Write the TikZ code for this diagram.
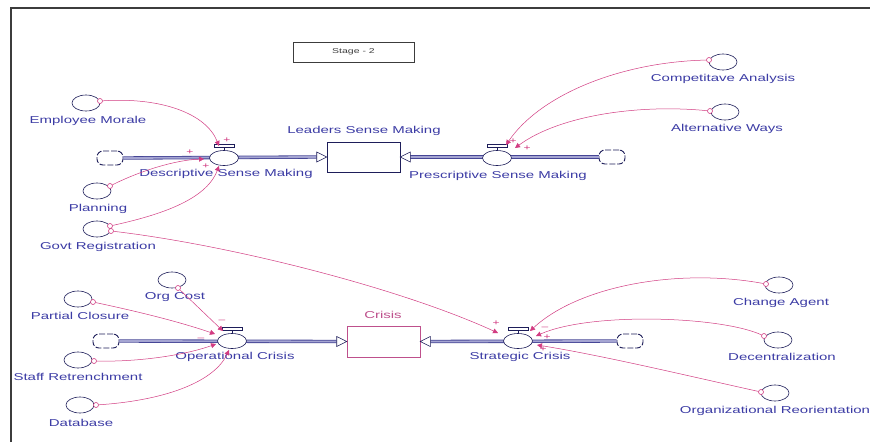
\documentclass[tikz,border=0pt]{standalone}
\usepackage{fontspec}
\setmainfont[FakeStretch=1.5]{Liberation Sans}
\usetikzlibrary{arrows.meta,shapes.geometric}
\definecolor{lbl}{RGB}{60,60,165}
\definecolor{navy}{RGB}{30,30,90}
\definecolor{pinkc}{RGB}{210,60,130}
\definecolor{pipec}{RGB}{70,70,150}
\definecolor{pipein}{RGB}{165,165,210}
\definecolor{stockpink}{RGB}{190,80,140}
\definecolor{framec}{RGB}{60,60,60}
\begin{document}
\begin{tikzpicture}[x=1pt,y=-1pt,
 aux/.style={ellipse, draw=navy, line width=0.6pt, minimum width=28pt, minimum height=16pt, inner sep=0pt},
 valve/.style={ellipse, draw=navy, fill=white, line width=0.6pt, minimum width=29pt, minimum height=15pt, inner sep=0pt},
 cloudn/.style={rectangle, rounded corners=6pt, draw=navy, fill=white, line width=0.9pt, dash pattern=on 6pt off 1.8pt, minimum width=26pt, minimum height=14pt, inner sep=0pt},
 stock/.style={rectangle, draw=navy, fill=white, line width=0.6pt, minimum width=73pt, minimum height=30pt, inner sep=0pt},
 lab/.style={text=lbl, font=\fontsize{10}{12}\selectfont, inner sep=0pt},
 pm/.style={text=pinkc, font=\fontsize{8}{9}\selectfont, inner sep=0pt},
 orig/.style={circle, draw=pinkc, fill=white, line width=0.6pt, minimum size=5pt, inner sep=0pt},
 conn/.style={draw=pinkc, line width=0.5pt, -{Triangle[length=5pt,width=5pt]}},
 pipe/.style={draw=pipec, line width=0.8pt, double=pipein, double distance=1.8pt},
 tri/.style={draw=navy, fill=white, line width=0.6pt},
 vbar/.style={draw=navy, fill=white, line width=0.6pt}
]
\useasboundingbox (0,0) rectangle (870,442);
\fill[white] (0,0) rectangle (870,442);
\draw[framec, line width=1.2pt] (11,442) -- (11,8) -- (870,8);

% stage box
\node[draw=framec, line width=0.8pt, minimum width=121pt, minimum height=20pt, inner sep=0pt,
      font=\fontsize{7}{8}\selectfont, text=framec] (stage) at (353.5,52) {Stage - 2};

% ---------- top flows ----------
\node[cloudn] (c1) at (110,158) {};
\node[cloudn] (c2) at (612,157) {};
\node[stock] (lsm) at (363.5,157) {};
\coordinate (lsmL) at ([xshift=-10]lsm.west);
\coordinate (lsmR) at ([xshift=10]lsm.east);
\draw[pipe] (c1.east) -- (lsmL);
\draw[pipe] (c2.west) -- (lsmR);
\draw[tri] (lsm.west) -- ([shift={(-10,-5)}]lsm.west) -- ([shift={(-10,5)}]lsm.west) -- cycle;
\draw[tri] (lsm.east) -- ([shift={(10,-5)}]lsm.east) -- ([shift={(10,5)}]lsm.east) -- cycle;
\node[valve] (dsm) at (224,158) {};
\node[valve] (psm) at (497,158) {};

% ---------- bottom flows ----------
\node[cloudn] (c3) at (106,341) {};
\node[cloudn] (c4) at (630,341) {};
\node[stock, draw=stockpink, minimum height=31pt] (cri) at (383.5,341.5) {};
\coordinate (criL) at ([xshift=-10]cri.west);
\coordinate (criR) at ([xshift=10]cri.east);
\draw[pipe] (c3.east) -- (criL);
\draw[pipe] (c4.west) -- (criR);
\draw[tri] (cri.west) -- ([shift={(-10,-5)}]cri.west) -- ([shift={(-10,5)}]cri.west) -- cycle;
\draw[tri] (cri.east) -- ([shift={(10,-5)}]cri.east) -- ([shift={(10,5)}]cri.east) -- cycle;
\node[valve] (opc) at (232,341) {};
\node[valve] (stc) at (518,341) {};

\foreach \v in {dsm,psm,opc,stc}{
  \draw[vbar] ([shift={(0,-3)}]\v.north) -- (\v.north);
  \draw[vbar] ([shift={(-10,-6)}]\v.north) rectangle ([shift={(10,-3)}]\v.north);
}

% ---------- auxiliaries ----------
\node[aux] (em) at (86,103) {};
\node[aux] (pl) at (97,191) {};
\node[aux] (gr) at (97,229) {};
\node[aux] (ca) at (723,62) {};
\node[aux] (aw) at (725,112) {};
\node[aux] (oc) at (172,280) {};
\node[aux] (pc) at (78,299) {};
\node[aux] (sr) at (78,360) {};
\node[aux] (db) at (80,405) {};
\node[aux] (cha) at (779,285) {};
\node[aux] (dec) at (778,340) {};
\node[aux] (orr) at (775,393) {};

% ---------- labels ----------
\node[lab] (lem) at (88,121) {Employee Morale};
\node[lab] (ldsm) at (226,174) {Descriptive Sense Making};
\node[lab] (llsm) at (364,131) {Leaders Sense Making};
\node[lab] (lpsm) at (498,176) {Prescriptive Sense Making};
\node[lab] (lca) at (723,79) {Competitave Analysis};
\node[lab] (law) at (727,129) {Alternative Ways};
\node[lab] (lpl) at (98,209) {Planning};
\node[lab] (lgr) at (98,247) {Govt Registration};
\node[lab] (loc) at (175,297) {Org Cost};
\node[lab] (lpc) at (80,316) {Partial Closure};
\node[lab] (lopc) at (235,357) {Operational Crisis};
\node[lab] (lsr) at (78,377) {Staff Retrenchment};
\node[lab] (ldb) at (81,423) {Database};
\node[lab, text=stockpink] (lcri) at (383,315) {Crisis};
\node[lab] (lstc) at (520,357) {Strategic Crisis};
\node[lab] (lcha) at (781,303) {Change Agent};
\node[lab] (ldec) at (782,357) {Decentralization};
\node[lab] (lorr) at (775,411) {Organizational Reorientation};

% ---------- connector origins ----------
\node[orig] (emo) at (100,101) {};
\node[orig] (plo) at (110,186) {};
\node[orig] (gro) at (110,226) {};
\node[orig] (gro2) at (111,231) {};
\node[orig] (cao) at (709,60) {};
\node[orig] (awo) at (710,111) {};
\node[orig] (oco) at (178,288) {};
\node[orig] (pco) at (93,302) {};
\node[orig] (sro) at (94,361) {};
\node[orig] (dbo) at (96,405) {};
\node[orig] (chao) at (766,284) {};
\node[orig] (deco) at (764,336) {};
\node[orig] (orro) at (761,392) {};

% ---------- connector ends ----------
\coordinate (e1) at (219,146);
\coordinate (e2) at (204,159);
\coordinate (e3) at (219,166);
\coordinate (e4) at (498,333);
\coordinate (e5) at (506,145);
\coordinate (e6) at (515,148);
\coordinate (e7) at (215,334);
\coordinate (e8) at (223,331);
\coordinate (e9) at (216,344);
\coordinate (e10) at (229,350);
\coordinate (e11) at (530,331);
\coordinate (e12) at (536,336);
\coordinate (e13) at (537,345);

% ---------- connectors ----------
\draw[conn] (emo) .. controls (160,97) and (206,113) .. (e1);
\draw[conn] (plo) .. controls (140,171) and (175,160) .. (e2);
\draw[conn] (gro) .. controls (160,215) and (206,200) .. (e3);
\draw[conn] (gro2) .. controls (230,245) and (400,288) .. (e4);
\draw[conn] (cao) .. controls (620,62) and (540,95) .. (e5);
\draw[conn] (awo) .. controls (640,104) and (560,115) .. (e6);
\draw[conn] (pco) .. controls (140,312) and (180,322) .. (e7);
\draw[conn] (oco) -- (e8);
\draw[conn] (sro) .. controls (140,362) and (185,355) .. (e9);
\draw[conn] (dbo) .. controls (170,400) and (215,380) .. (e10);
\draw[conn] (chao) .. controls (680,268) and (580,285) .. (e11);
\draw[conn] (deco) .. controls (720,316) and (590,312) .. (e12);
\draw[conn] (orro) .. controls (680,374) and (600,355) .. (e13);

% ---------- polarity signs ----------
\node[pm] (p1) at (227,140) {+};
\node[pm] (p2) at (190,152) {+};
\node[pm] (p3) at (206,166) {+};
\node[pm] (p4) at (513,141) {+};
\node[pm] (p5) at (527,148) {+};
\node[pm] (p6) at (222,321) {–};
\node[pm] (p7) at (201,339) {–};
\node[pm] (p8) at (496,323) {+};
\node[pm] (p9) at (545,328) {–};
\node[pm] (p10) at (547,337) {+};
\node[pm] (p11) at (543,349) {+};
\end{tikzpicture}
\end{document}
